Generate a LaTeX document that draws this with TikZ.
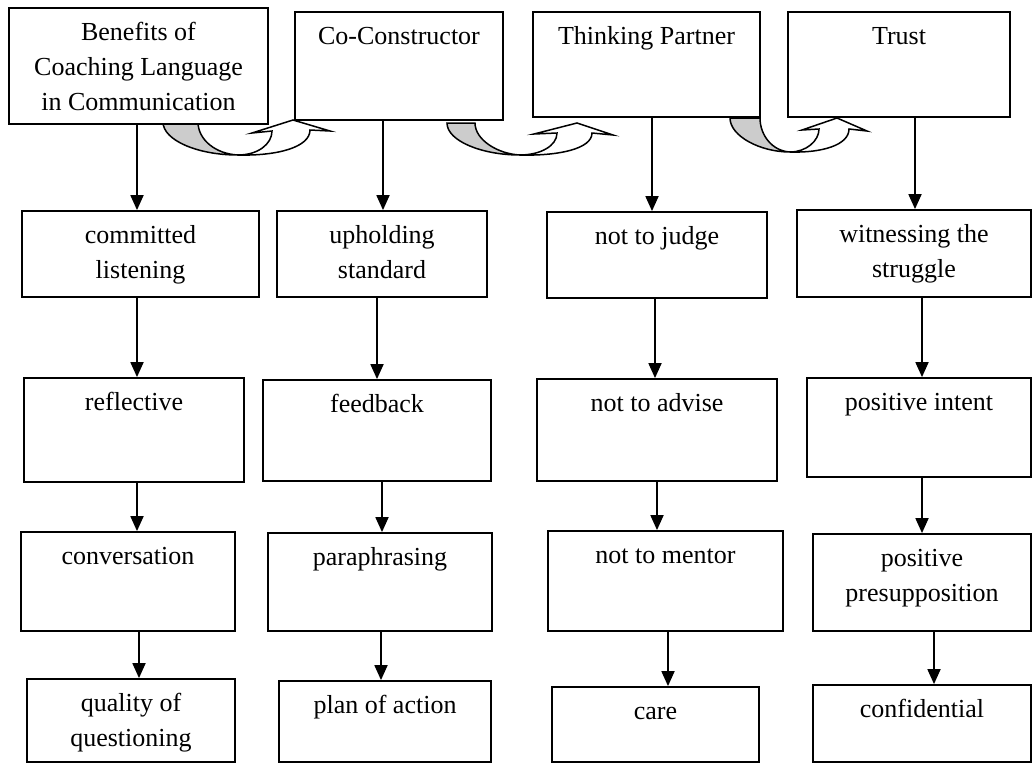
\documentclass[tikz,border=0pt]{standalone}
\usepackage{fontspec}
\setmainfont{Liberation Serif}
\usetikzlibrary{arrows.meta,fit}
\newcommand\tbox[6]{%
  \coordinate (#1-a) at (#2,#3);
  \coordinate (#1-b) at (#4,#5);
  \node[box, fit=(#1-a)(#1-b)] (#1) {};
  \node[lbl] (#1-t) at ([yshift=-9pt]#1.north) {\strut #6};}
\newcommand\varr[3]{%
  \coordinate (tmpx) at (#3,0);
  \draw[arr] (#1.south -| tmpx) -- (#2.north -| tmpx);}
\begin{document}
\begin{tikzpicture}[x=1pt,y=-1pt,
  box/.style={draw=black, line width=1.8pt, fill=white, inner sep=0pt},
  lbl/.style={anchor=north, inner sep=0pt, align=center,
    font=\fontsize{26}{35}\selectfont},
  arr/.style={line width=1.8pt, -{Triangle[length=15pt,width=13pt]}},
  band/.style={draw=black, line width=1.5pt, line join=miter},
  back/.style={band, fill=gray!40},
  front/.style={band, fill=white},
]
\useasboundingbox (0,0) rectangle (1036,764);
\fill[white] (0,0) rectangle (1036,764);

% curved up arrows (drawn first, boxes cover their ends)
\draw[back] (163,122) .. controls (163,140) and (197,155) .. (238,155)
  .. controls (216,154) and (198,140) .. (198,122) -- cycle;
\draw[front] (238,155) .. controls (258,155) and (272,144) .. (272,131)
  -- (252,133) -- (293,120) -- (330,131) -- (310,130)
  .. controls (310,147) and (278,156) .. (238,155) -- cycle;

\draw[back] (447,123) .. controls (447,141) and (482,155) .. (520,155)
  .. controls (498,154) and (475,140) .. (475,123) -- cycle;
\draw[front] (520,155) .. controls (540,155) and (557,146) .. (557,133)
  -- (534,134) -- (577,123) -- (613,135) -- (592,133)
  .. controls (592,149) and (558,156) .. (520,155) -- cycle;

\draw[back] (730,118) .. controls (730,136) and (760,152) .. (790,152)
  .. controls (772,151) and (760,135) .. (760,118) -- cycle;
\draw[front] (790,152) .. controls (806,152) and (819,141) .. (819,129)
  -- (802,130) -- (837,118) -- (867,131) -- (849,129)
  .. controls (849,145) and (822,153) .. (790,152) -- cycle;

% top row
\tbox{A}{9}{8}{268}{124}{Benefits of\\Coaching Language\\in Communication}
\tbox{B}{295}{12}{503}{120}{Co-Constructor}
\tbox{C}{533}{12}{760}{117}{Thinking Partner}
\tbox{D}{788}{12}{1010}{117}{Trust}

% row 1
\tbox{cl}{22}{211}{259}{297}{committed\\listening}
\tbox{us}{277}{211}{487}{297}{upholding\\standard}
\tbox{nj}{547}{212}{767}{298}{not to judge}
\tbox{ws}{797}{210}{1031}{297}{witnessing the\\struggle}

% row 2
\tbox{rf}{24}{378}{244}{482}{reflective}
\tbox{fb}{263}{380}{491}{481}{feedback}
\tbox{na}{537}{379}{777}{481}{not to advise}
\tbox{pi}{807}{378}{1031}{477}{positive intent}

% row 3
\tbox{cv}{21}{532}{235}{631}{conversation}
\tbox{pp}{268}{533}{492}{631}{paraphrasing}
\tbox{nm}{548}{531}{783}{631}{not to mentor}
\tbox{ps}{813}{534}{1031}{631}{positive\\presupposition}

% row 4
\tbox{qq}{27}{679}{235}{762}{quality of\\questioning}
\tbox{pa}{279}{681}{491}{762}{plan of action}
\tbox{ca}{552}{687}{759}{762}{care}
\tbox{cf}{813}{685}{1031}{762}{confidential}

% vertical arrows
\varr{A}{cl}{137}
\varr{cl}{rf}{137}
\varr{rf}{cv}{137}
\varr{cv}{qq}{139}

\varr{B}{us}{383}
\varr{us}{fb}{377}
\varr{fb}{pp}{382}
\varr{pp}{pa}{381}

\varr{C}{nj}{652}
\varr{nj}{na}{655}
\varr{na}{nm}{657}
\varr{nm}{ca}{668}

\varr{D}{ws}{915}
\varr{ws}{pi}{922}
\varr{pi}{ps}{922}
\varr{ps}{cf}{934}
\end{tikzpicture}
\end{document}
